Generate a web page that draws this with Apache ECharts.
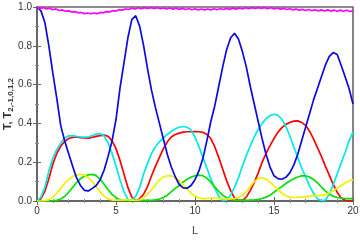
<!DOCTYPE html>
<html><head><meta charset="utf-8">
<script src="https://cdn.jsdelivr.net/npm/echarts@6/dist/echarts.min.js"></script>
<style>html,body{margin:0;padding:0;background:#fff}#c{width:360px;height:240px}</style>
</head><body><div id="c"></div>
<script>
const L = [0,0.25,0.5,0.75,1,1.25,1.5,1.75,2,2.25,2.5,2.75,3,3.25,3.5,3.75,4,4.25,4.5,4.75,5,5.25,5.5,5.75,6,6.25,6.5,6.75,7,7.25,7.5,7.75,8,8.25,8.5,8.75,9,9.25,9.5,9.75,10,10.25,10.5,10.75,11,11.25,11.5,11.75,12,12.25,12.5,12.75,13,13.25,13.5,13.75,14,14.25,14.5,14.75,15,15.25,15.5,15.75,16,16.25,16.5,16.75,17,17.25,17.5,17.75,18,18.25,18.5,18.75,19,19.25,19.5,19.75,20];
const T0 = [1.0,0.98,0.92,0.80,0.66,0.53,0.39,0.31,0.245,0.18,0.12,0.08,0.055,0.052,0.065,0.08,0.11,0.16,0.23,0.31,0.42,0.58,0.71,0.84,0.935,0.955,0.90,0.80,0.68,0.57,0.48,0.40,0.32,0.24,0.175,0.125,0.085,0.068,0.066,0.08,0.11,0.155,0.22,0.31,0.41,0.49,0.59,0.69,0.78,0.84,0.865,0.835,0.77,0.69,0.59,0.5,0.41,0.32,0.24,0.175,0.13,0.115,0.112,0.122,0.145,0.185,0.24,0.31,0.38,0.45,0.52,0.58,0.64,0.70,0.745,0.765,0.755,0.70,0.64,0.58,0.50];
const Tred = [0,0.012,0.05,0.115,0.19,0.245,0.282,0.307,0.322,0.328,0.33,0.327,0.325,0.324,0.328,0.333,0.337,0.34,0.333,0.31,0.27,0.21,0.14,0.07,0.02,0.002,0.012,0.035,0.075,0.13,0.18,0.225,0.27,0.305,0.33,0.343,0.35,0.355,0.357,0.357,0.358,0.357,0.354,0.343,0.322,0.28,0.225,0.165,0.105,0.055,0.015,0.003,0.003,0.02,0.055,0.095,0.145,0.2,0.245,0.285,0.322,0.355,0.378,0.395,0.405,0.412,0.413,0.405,0.39,0.36,0.32,0.275,0.23,0.18,0.133,0.085,0.045,0.015,0.004,0.001,0.002];
const Tcyan = [0,0.02,0.07,0.155,0.22,0.265,0.298,0.325,0.336,0.337,0.333,0.33,0.329,0.33,0.337,0.345,0.348,0.335,0.3,0.245,0.18,0.11,0.05,0.008,0.003,0.025,0.07,0.14,0.195,0.245,0.28,0.305,0.325,0.343,0.358,0.372,0.38,0.384,0.38,0.365,0.33,0.28,0.225,0.17,0.115,0.065,0.025,0.003,0.005,0.03,0.07,0.12,0.18,0.235,0.285,0.33,0.37,0.4,0.425,0.44,0.447,0.442,0.42,0.385,0.335,0.28,0.225,0.17,0.125,0.078,0.04,0.012,0.001,0.005,0.035,0.085,0.14,0.195,0.25,0.31,0.355];
const Tgreen = [0,0,0,0,0.001,0.003,0.01,0.024,0.045,0.07,0.095,0.115,0.128,0.135,0.137,0.131,0.112,0.086,0.058,0.034,0.017,0.007,0.003,0.002,0.002,0.002,0.002,0.003,0.003,0.004,0.006,0.01,0.018,0.03,0.048,0.065,0.08,0.098,0.112,0.123,0.13,0.133,0.13,0.118,0.097,0.073,0.05,0.03,0.017,0.009,0.005,0.004,0.004,0.004,0.005,0.006,0.008,0.013,0.02,0.03,0.045,0.06,0.074,0.09,0.103,0.115,0.124,0.13,0.13,0.124,0.111,0.093,0.072,0.052,0.036,0.025,0.018,0.015,0.013,0.012,0.012];
const Tyellow = [0,0,0.002,0.006,0.02,0.04,0.065,0.09,0.11,0.126,0.135,0.138,0.133,0.12,0.1,0.074,0.047,0.025,0.011,0.005,0.004,0.005,0.006,0.006,0.005,0.004,0.006,0.018,0.035,0.058,0.085,0.108,0.124,0.13,0.13,0.12,0.105,0.082,0.06,0.04,0.025,0.016,0.012,0.013,0.015,0.015,0.014,0.012,0.011,0.011,0.013,0.018,0.03,0.048,0.075,0.1,0.115,0.12,0.113,0.097,0.078,0.058,0.04,0.027,0.02,0.018,0.019,0.021,0.023,0.025,0.026,0.027,0.029,0.033,0.042,0.053,0.066,0.08,0.094,0.104,0.11];
const Lm = [0,0.2,0.4,0.6,0.8,1,1.2,1.4,1.6,1.8,2,2.2,2.4,2.6,2.8,3,3.2,3.4,3.6,3.8,4,4.2,4.4,4.6,4.8,5,5.2,5.4,5.6,5.8,6,6.2,6.4,6.6,6.8,7,7.2,7.4,7.6,7.8,8,8.2,8.4,8.6,8.8,9,9.2,9.4,9.6,9.8,10,10.2,10.4,10.6,10.8,11,11.2,11.4,11.6,11.8,12,12.2,12.4,12.6,12.8,13,13.2,13.4,13.6,13.8,14,14.2,14.4,14.6,14.8,15,15.2,15.4,15.6,15.8,16,16.2,16.4,16.6,16.8,17,17.2,17.4,17.6,17.8,18,18.2,18.4,18.6,18.8,19,19.2,19.4,19.6,19.8,20];
const Tsum = [0.998,0.993,0.997,0.990,0.994,0.986,0.990,0.982,0.985,0.978,0.980,0.974,0.976,0.970,0.972,0.966,0.969,0.965,0.969,0.966,0.972,0.970,0.976,0.975,0.981,0.979,0.986,0.984,0.990,0.987,0.994,0.990,0.996,0.991,0.997,0.992,0.997,0.992,0.996,0.991,0.995,0.990,0.995,0.989,0.994,0.988,0.993,0.987,0.992,0.986,0.991,0.985,0.990,0.985,0.990,0.985,0.991,0.986,0.992,0.987,0.993,0.988,0.994,0.989,0.995,0.990,0.996,0.991,0.997,0.992,0.997,0.992,0.997,0.991,0.996,0.990,0.995,0.989,0.993,0.987,0.991,0.985,0.989,0.983,0.988,0.982,0.987,0.981,0.986,0.980,0.985,0.979,0.985,0.979,0.984,0.978,0.984,0.978,0.983,0.977,0.981];
const xTicks = [0,5,10,15,20];
const yTicks = ['0.0','0.2','0.4','0.6','0.8','1.0'];

const pair = (xs, ys) => xs.map((x, i) => [x, ys[i]]);
const font = 'Liberation Sans, Arial, sans-serif';
const frame = {color: '#666', width: 1.6};
const chart = echarts.init(document.getElementById('c'), null, {renderer: 'canvas'});
function line(name, xs, ys, color) {
  return {name, type: 'line', data: pair(xs, ys), showSymbol: false, symbol: 'none',
    lineStyle: {color, width: 1.7}, itemStyle: {color}, clip: true, z: 3};
}
chart.setOption({
  animation: false,
  grid: {left: 37, right: 7, top: 7, bottom: 39, containLabel: false, outerBoundsMode: 'none',
    show: true, borderColor: '#666', borderWidth: 1.6, backgroundColor: 'transparent'},
  xAxis: [{
    type: 'value', min: 0, max: 20, interval: 5,
    name: 'L', nameLocation: 'middle', nameGap: 24, nameMoveOverlap: false,
    nameTextStyle: {fontFamily: font, fontSize: 11, color: '#444'},
    axisLine: {show: true, lineStyle: frame},
    axisTick: {show: true, inside: true, length: 4, lineStyle: {color: '#666'}},
    minorTick: {show: true, splitNumber: 5, length: 2, lineStyle: {color: '#888'}},
    splitLine: {show: false},
    axisLabel: {fontFamily: font, fontSize: 10, color: '#333', margin: 5,
      formatter: v => xTicks.includes(v) ? String(v) : ''}
  }, {
    type: 'value', min: 0, max: 20, interval: 5, position: 'top',
    axisLine: {show: true, lineStyle: frame},
    axisTick: {show: true, inside: true, length: 4, lineStyle: {color: '#666'}},
    minorTick: {show: true, splitNumber: 5, length: 2, lineStyle: {color: '#888'}},
    splitLine: {show: false}, axisLabel: {show: false}
  }],
  yAxis: [{
    type: 'value', min: 0, max: 1, interval: 0.2,
    name: '{a|T, T}{b|2,-1,0,1,2}', nameLocation: 'middle', nameGap: 22, nameRotate: 90, nameMoveOverlap: false,
    nameTextStyle: {rich: {
      a: {fontFamily: font, fontSize: 11, fontWeight: 'bold', color: '#333', lineHeight: 14, verticalAlign: 'middle'},
      b: {fontFamily: font, fontSize: 8, fontWeight: 'bold', color: '#333', lineHeight: 8, verticalAlign: 'bottom'}
    }},
    axisLine: {show: true, lineStyle: frame},
    axisTick: {show: true, inside: true, length: 4, lineStyle: {color: '#666'}},
    minorTick: {show: true, splitNumber: 2, length: 2, lineStyle: {color: '#888'}},
    splitLine: {show: false},
    axisLabel: {fontFamily: font, fontSize: 10, color: '#333', margin: 5,
      formatter: v => yTicks[Math.round(v * 5)] || ''}
  }, {
    type: 'value', min: 0, max: 1, interval: 0.2, position: 'right',
    axisLine: {show: true, lineStyle: frame},
    axisTick: {show: true, inside: true, length: 4, lineStyle: {color: '#666'}},
    minorTick: {show: true, splitNumber: 2, length: 2, lineStyle: {color: '#888'}},
    splitLine: {show: false}, axisLabel: {show: false}
  }],
  series: [
    line('T-1', L, Tred, '#ff0000'),
    line('T1', L, Tcyan, '#00e8e8'),
    line('T2', L, Tgreen, '#00e000'),
    line('T-2', L, Tyellow, '#f0f000'),
    line('T0', L, T0, '#0a0ae0'),
    line('T', Lm, Tsum, '#ff00ff')
  ]
});
</script>
</body></html>
